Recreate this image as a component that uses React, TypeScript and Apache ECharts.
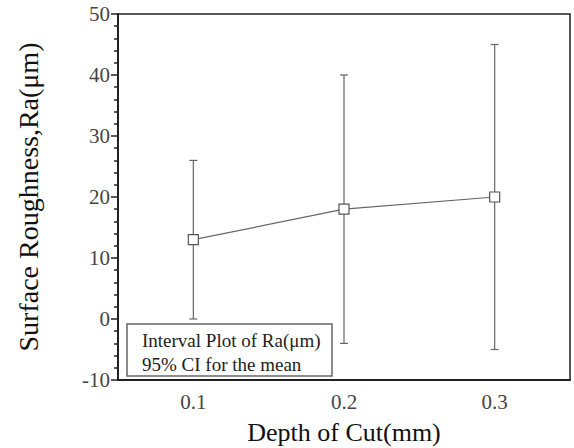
import React, { useEffect, useRef } from "react";
import * as echarts from "echarts";

const categories = ["0.1", "0.2", "0.3"];
const means = [13, 18, 20];
const lowers = [0, -4, -5];
const uppers = [26, 40, 45];
const yTicks = { min: -10, max: 50, interval: 10 };
const legendLines = ["Interval Plot of Ra(\u03bcm)", "95% CI for the mean"];

const FONT = "'Liberation Serif', 'DejaVu Serif', serif";

export default function App() {
  const ref = useRef<HTMLDivElement>(null);
  useEffect(() => {
    if (!ref.current) return;
    const chart = echarts.init(ref.current, null, { renderer: "svg", width: 574, height: 448 });
    const errData = categories.map((c, i) => [i, lowers[i], uppers[i]]);
    chart.setOption({
      animation: false,
      backgroundColor: "#fff",
      grid: {
        left: 118,
        right: 4,
        top: 14,
        bottom: 68,
        outerBoundsMode: "none",
      },
      xAxis: [
        {
          type: "category",
          data: categories,
          boundaryGap: true,
          name: "Depth of Cut(mm)",
          nameLocation: "middle",
          nameGap: 39,
          nameTextStyle: { fontFamily: FONT, fontSize: 26, color: "#111" },
          axisLine: { onZero: false, lineStyle: { color: "#222", width: 2 } },
          axisTick: { alignWithLabel: true, inside: false, length: 5, lineStyle: { color: "#222", width: 1.5 } },
          axisLabel: { fontFamily: FONT, fontSize: 21, color: "#444", margin: 11 },
          splitLine: { show: false },
        },
      ],
      yAxis: [
        {
          type: "value",
          min: yTicks.min,
          max: yTicks.max,
          interval: yTicks.interval,
          name: "Surface Roughness,Ra(\u03bcm)",
          nameLocation: "middle",
          nameRotate: 90,
          nameGap: 76,
          nameTextStyle: { fontFamily: FONT, fontSize: 28, color: "#111" },
          axisLine: { show: true, onZero: false, lineStyle: { color: "#222", width: 2 } },
          axisTick: { show: true, inside: false, length: 7, lineStyle: { color: "#222", width: 1.5 } },
          minorTick: { show: true, splitNumber: 5, length: 4, lineStyle: { color: "#222", width: 1.5 } },
          axisLabel: { fontFamily: FONT, fontSize: 21, color: "#444", margin: 8 },
          splitLine: { show: false },
        },
      ],
      series: [
        {
          type: "custom",
          data: errData,
          z: 1,
          clip: false,
          renderItem: (params: any, api: any) => {
            const x = api.value(0);
            const lo = api.coord([x, api.value(1)]);
            const hi = api.coord([x, api.value(2)]);
            const cap = 4;
            const style = { stroke: "#666", lineWidth: 1.2 };
            const children: any[] = [
              { type: "line", shape: { x1: lo[0], y1: lo[1], x2: hi[0], y2: hi[1] }, style },
              { type: "line", shape: { x1: lo[0] - cap, y1: lo[1], x2: lo[0] + cap, y2: lo[1] }, style },
              { type: "line", shape: { x1: hi[0] - cap, y1: hi[1], x2: hi[0] + cap, y2: hi[1] }, style },
            ];
            if (params.dataIndex === 0) {
              const cs = params.coordSys;
              children.push({
                type: "rect",
                shape: { x: cs.x, y: cs.y, width: cs.width, height: cs.height },
                style: { fill: "none", stroke: "#222", lineWidth: 1.5 },
              });
            }
            return { type: "group", children };
          },
        },
        {
          type: "line",
          data: means,
          z: 3,
          symbol: "rect",
          symbolSize: 10,
          itemStyle: { color: "#fff", borderColor: "#555", borderWidth: 1.2 },
          lineStyle: { color: "#666", width: 1.2 },
        },
      ],
      graphic: [
        {
          type: "rect",
          shape: { x: 127, y: 324, width: 205, height: 52 },
          style: { fill: "#fff", stroke: "#666", lineWidth: 1.5 },
          z: 10,
        },
        {
          type: "text",
          x: 142,
          y: 340,
          style: { text: legendLines[0], fontFamily: FONT, fontSize: 19, fill: "#222", verticalAlign: "middle" },
          z: 11,
        },
        {
          type: "text",
          x: 142,
          y: 364,
          style: { text: legendLines[1], fontFamily: FONT, fontSize: 19, fill: "#222", verticalAlign: "middle" },
          z: 11,
        },
      ],
    });
    return () => chart.dispose();
  }, []);
  return <div ref={ref} style={{ position: "fixed", left: 0, top: 0, width: 574, height: 448 }} />;
}
